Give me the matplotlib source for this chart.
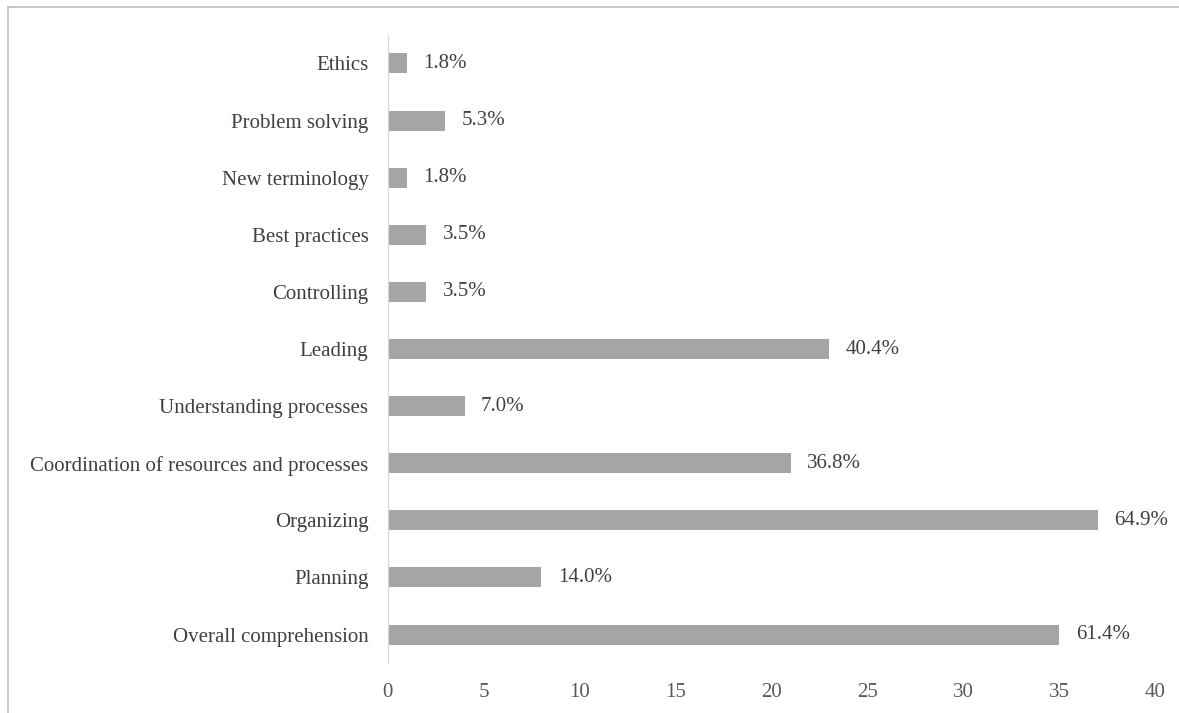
import matplotlib.pyplot as plt
from matplotlib.lines import Line2D

plt.rcParams["font.family"] = ["Liberation Serif", "DejaVu Serif"]

# Response counts per topic (n = 57), listed bottom to top
topics = [
    "Overall comprehension",
    "Planning",
    "Organizing",
    "Coordination of resources and processes",
    "Understanding processes",
    "Leading",
    "Controlling",
    "Best practices",
    "New terminology",
    "Problem solving",
    "Ethics",
]
counts = [35, 8, 37, 21, 4, 23, 2, 2, 1, 3, 1]
shares = ["61.4%", "14.0%", "64.9%", "36.8%", "7.0%", "40.4%",
          "3.5%", "3.5%", "1.8%", "5.3%", "1.8%"]

fig = plt.figure(figsize=(11.79, 7.13), dpi=100)
ax = fig.add_axes([0.329, 0.07, 0.651, 0.881])

bars = ax.barh(range(len(topics)), counts, height=0.35, color="#a5a5a5")
for rect, txt in zip(bars, shares):
    ax.text(rect.get_width() + 0.85, rect.get_y() + rect.get_height() / 2, txt,
            va="center", ha="left", fontsize=15, color="#404040")

ax.set_yticks(range(len(topics)))
ax.set_yticklabels(topics, fontsize=15, color="#404040")
ax.set_xlim(0, 40)
ax.set_ylim(-0.5, len(topics) - 0.5)
ax.set_xticks(range(0, 41, 5))
ax.tick_params(axis="x", labelsize=15, colors="#595959", length=0, pad=14)
ax.tick_params(axis="y", length=0, pad=14)

for side in ["top", "right", "bottom"]:
    ax.spines[side].set_visible(False)
ax.spines["left"].set_color("#d9d9d9")

# thin frame around the chart area (top and left edges)
fig.add_artist(Line2D([0.007, 1.0], [0.990, 0.990], transform=fig.transFigure,
                      color="#bfbfbf", linewidth=1.2))
fig.add_artist(Line2D([0.007, 0.007], [0.0, 0.990], transform=fig.transFigure,
                      color="#bfbfbf", linewidth=1.2))

fig.savefig("out.png", dpi=100)
